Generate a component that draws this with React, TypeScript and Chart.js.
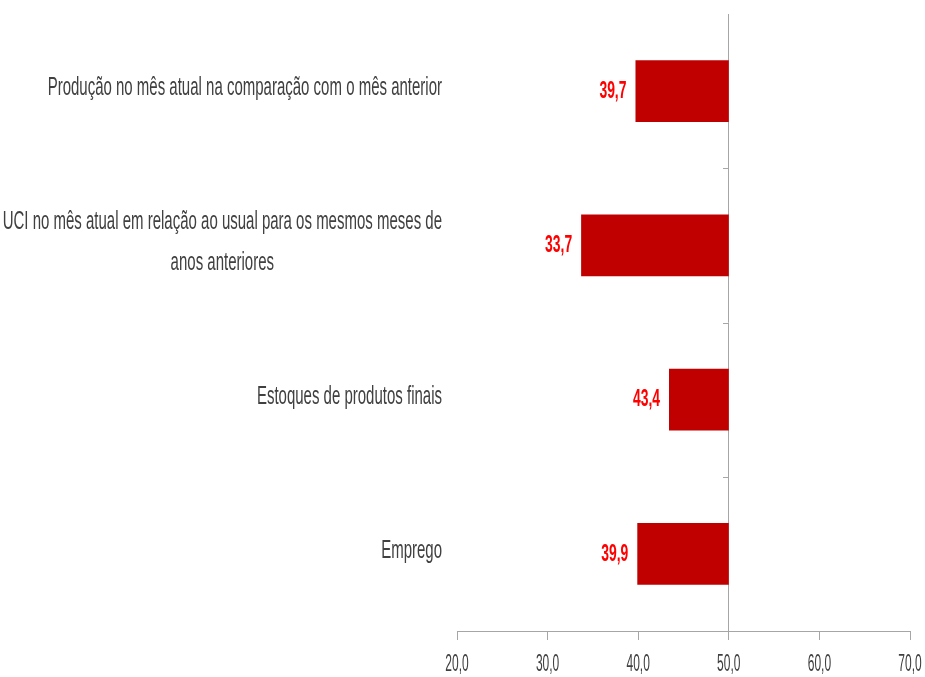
import React, { useEffect, useRef } from "react";
import { Chart, registerables } from "chart.js";

Chart.register(...registerables);

const categories: (string | string[])[] = [
  "Produção no mês atual na comparação com o mês anterior",
  ["UCI no mês atual em relação ao usual para os mesmos meses de", "anos anteriores"],
  "Estoques de produtos finais",
  "Emprego",
];
const values = [39.7, 33.7, 43.4, 39.9];
const BASE = 50;
const xTicks = [20, 30, 40, 50, 60, 70];
const xMin = 20;
const xMax = 70;

const AXIS_COLOR = "#A6A6A6";

function drawScaled(
  ctx: CanvasRenderingContext2D,
  text: string,
  x: number,
  y: number,
  sx: number,
  align: CanvasTextAlign
) {
  ctx.save();
  ctx.translate(x, y);
  ctx.scale(sx, 1);
  ctx.textAlign = align;
  ctx.fillText(text, 0, 0);
  ctx.restore();
}

const textPlugin = {
  id: "customText",
  afterDraw(chart: any) {
    const ctx: CanvasRenderingContext2D = chart.ctx;
    const xs = chart.scales.x;
    const ys = chart.scales.y;
    const area = chart.chartArea;
    const x50 = xs.getPixelForValue(BASE);

    // small ticks at category boundaries on the 50 line
    ctx.save();
    ctx.strokeStyle = AXIS_COLOR;
    ctx.lineWidth = 1;
    for (let i = 0; i < categories.length - 1; i++) {
      const yb = Math.round((ys.getPixelForValue(i) + ys.getPixelForValue(i + 1)) / 2) + 0.5;
      ctx.beginPath();
      ctx.moveTo(Math.round(x50) - 6, yb);
      ctx.lineTo(Math.round(x50), yb);
      ctx.stroke();
    }
    ctx.restore();

    ctx.save();
    ctx.textBaseline = "middle";

    // x tick labels
    ctx.fillStyle = "#404040";
    ctx.font = "24px 'Liberation Sans'";
    xTicks.forEach((v) => {
      const label = v.toFixed(1).replace(".", ",");
      drawScaled(ctx, label, xs.getPixelForValue(v), area.bottom + 33, 0.5, "center");
    });

    // category labels
    ctx.font = "25px 'Liberation Sans'";
    ctx.fillStyle = "#404040";
    const sxCat = 0.6;
    const rightEdge = ys.right - 15;
    categories.forEach((c, i) => {
      const lines = Array.isArray(c) ? c : [c];
      const widths = lines.map((l) => ctx.measureText(l).width * sxCat);
      const maxW = Math.max(...widths);
      const cx = rightEdge - maxW / 2;
      const lh = 41;
      const cy = ys.getPixelForValue(i) - 3;
      lines.forEach((l, j) => {
        const ly = cy + (j - (lines.length - 1) / 2) * lh;
        drawScaled(ctx, l, cx, ly, sxCat, "center");
      });
    });

    // data labels
    ctx.font = "bold 24px 'Liberation Sans'";
    ctx.fillStyle = "#FF0000";
    values.forEach((v, i) => {
      const label = v.toFixed(1).replace(".", ",");
      drawScaled(ctx, label, xs.getPixelForValue(v) - 9, ys.getPixelForValue(i), 0.58, "right");
    });
    ctx.restore();
  },
};

export default function App() {
  const canvasRef = useRef<HTMLCanvasElement | null>(null);

  useEffect(() => {
    if (!canvasRef.current) return;
    const chart = new Chart(canvasRef.current, {
      type: "bar",
      data: {
        labels: categories as any,
        datasets: [
          {
            data: values.map((v) => [v, BASE]) as any,
            backgroundColor: "#C00000",
            borderWidth: 0,
            barPercentage: 0.4,
            categoryPercentage: 1,
          },
        ],
      },
      options: {
        indexAxis: "y",
        animation: false,
        responsive: true,
        maintainAspectRatio: false,
        layout: { padding: { top: 14, right: 15, left: 0, bottom: 0 } },
        plugins: {
          legend: { display: false },
          tooltip: { enabled: false },
        },
        scales: {
          x: {
            type: "linear",
            min: xMin,
            max: xMax,
            ticks: { stepSize: 10, display: false },
            grid: {
              color: (ctx: any) =>
                ctx.tick && ctx.tick.value === BASE ? AXIS_COLOR : "rgba(0,0,0,0)",
              tickColor: AXIS_COLOR,
              tickLength: 9,
              drawTicks: true,
              drawOnChartArea: true,
            },
            border: { display: true, color: AXIS_COLOR },
            afterFit: (s: any) => {
              s.height = 46;
            },
          },
          y: {
            ticks: { display: false },
            grid: { display: false },
            border: { display: false },
            afterFit: (s: any) => {
              s.width = 457;
            },
          },
        },
      } as any,
      plugins: [textPlugin],
    });
    return () => chart.destroy();
  }, []);

  return (
    <div style={{ position: "absolute", left: 0, top: 0, width: 925, height: 677, background: "#fff" }}>
      <canvas ref={canvasRef} />
    </div>
  );
}
